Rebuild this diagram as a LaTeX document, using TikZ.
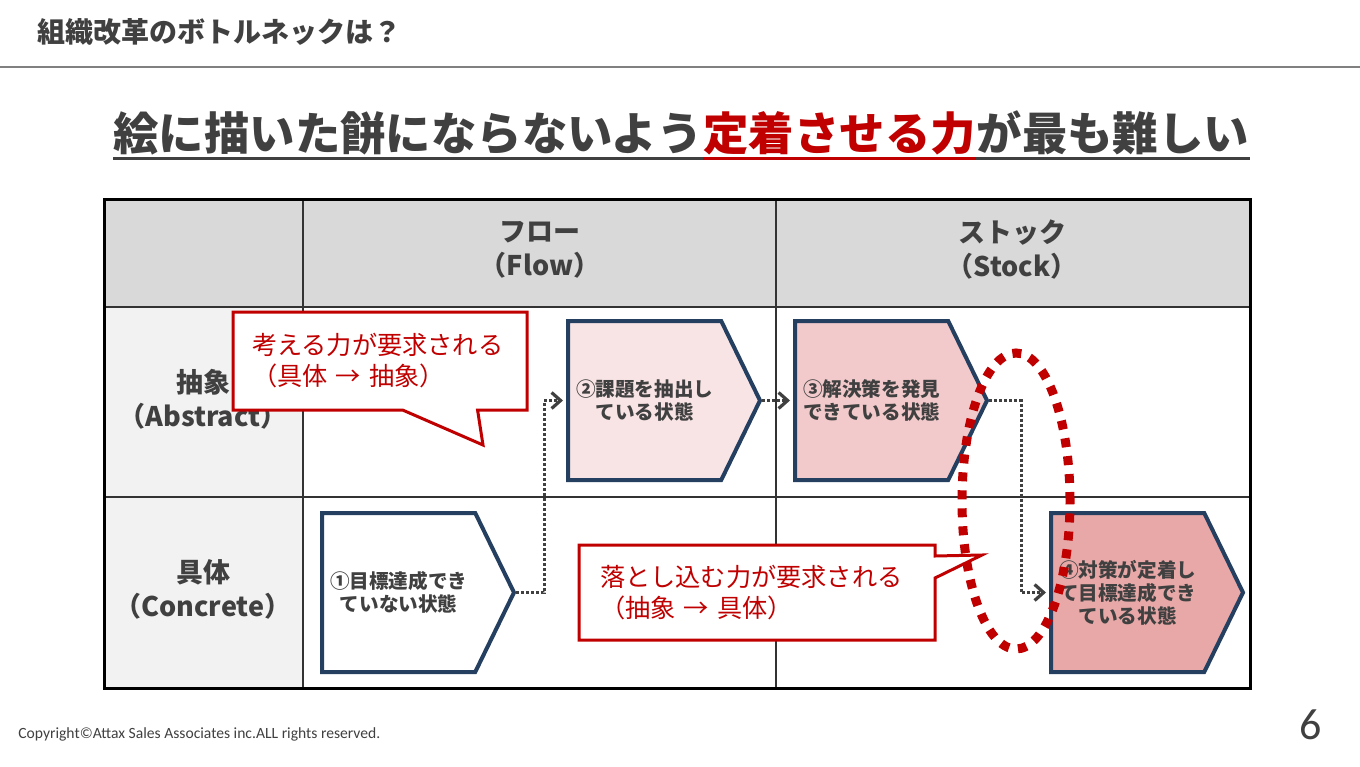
\documentclass[tikz,border=0pt]{standalone}
\usepackage{fontspec}
\setmainfont{Noto Sans CJK JP}
\newfontfamily\latinfont{Carlito}
\usetikzlibrary{shapes.symbols, shapes.callouts, arrows.meta, positioning}

\definecolor{textgray}{HTML}{404040}
\definecolor{darkred}{HTML}{C00000}
\definecolor{navy}{HTML}{243F60}
\definecolor{headgray}{HTML}{D9D9D9}
\definecolor{colgray}{HTML}{F2F2F2}
\definecolor{pinkA}{HTML}{F9E4E5}
\definecolor{pinkB}{HTML}{F2CACB}
\definecolor{pinkC}{HTML}{E8A8A8}

\tikzset{
  state/.style={signal, signal to=east, signal pointer angle=128, draw=navy,
    line width=2pt, minimum width=96pt, minimum height=79.5pt, anchor=west,
    font=\bfseries\fontsize{9.8}{11.5}\selectfont, text=textgray, align=center, inner sep=2pt},
  flow/.style={textgray, line width=1.5pt, dash pattern=on 1.5pt off 1pt,
    -{Straight Barb[length=4.5pt,width=8pt,line width=1.6pt]}, shorten >=1.5pt},
  note/.style={rectangle callout, draw=darkred, line width=1.5pt, fill=white,
    text=darkred, align=left, font=\fontsize{12.6}{15.5}\selectfont},
  headtext/.style={font=\bfseries\fontsize{13.5}{17}\selectfont, text=textgray, align=center},
}

\begin{document}
\begin{tikzpicture}[x=0.5pt, y=-0.5pt]
    \useasboundingbox[fill=white] (0,0) rectangle (1360,766);

    % slide header
    \node[anchor=west, inner sep=0, text=textgray, font=\bfseries\fontsize{14}{16}\selectfont]
        (header) at (37,32) {組織改革のボトルネックは？};
    \draw[gray, line width=1pt] (0,67) -- (1360,67);

    % title
    \begin{scope}[every node/.style={inner sep=0, font=\bfseries\fontsize{22.7}{26}\selectfont}]
        \node[anchor=base west, text=textgray] (t1) at (113,150) {絵に描いた餅にならないよう};
        \node[anchor=base west, text=darkred] (t2) at (t1.base east) {定着させる力};
        \node[anchor=base west, text=textgray] (t3) at (t2.base east) {が最も難しい};
    \end{scope}
    \draw[textgray, line width=1.5pt] ([yshift=-4pt]t1.base west) -- ([yshift=-4pt]t1.base east);
    \draw[darkred, line width=1.5pt] ([yshift=-4pt]t2.base west) -- ([yshift=-4pt]t2.base east);
    \draw[textgray, line width=1.5pt] ([yshift=-4pt]t3.base west) -- ([yshift=-4pt]t3.base east);

    % table
    \fill[headgray] (104,199) rectangle (1250,307);
    \fill[colgray] (104,307) rectangle (303,688);
    \draw[black!80, line width=0.7pt] (303,199) -- (303,688)
        (776,199) -- (776,688)
        (104,307) -- (1250,307)
        (104,497) -- (1250,497);
    \draw[black, line width=1.5pt] (104,199) rectangle (1250,688);

    \node[headtext] (flowhead) at (540,250) {フロー\\（Flow）};
    \node[headtext] (stockhead) at (1012,250) {ストック\\（Stock）};
    \node[headtext] (abshead) at (203,399) {抽象\\（Abstract）};
    \node[headtext] (conhead) at (203,589) {具体\\（Concrete）};

    % states
    \node[state, fill=white] (p1) at (320,592.5) {①目標達成でき\\ていない状態};
    \node[state, fill=pinkA] (p2) at (566,400.5) {②課題を抽出し\\ている状態};
    \node[state, fill=pinkB] (p3) at (793,400.5) {③解決策を発見\\できている状態};
    \node[state, fill=pinkC] (p4) at (1049,592.5) {④対策が定着し\\て目標達成でき\\ている状態};

    % connectors
    \draw[flow] (p1.east) -- ([xshift=14pt]p1.east) |- (p2.west);
    \draw[flow] (p2.east) -- (p3.west);
    \draw[flow] (p3.east) -- ([xshift=16pt]p3.east) |- (p4.west);

    % callouts
    \node[note, minimum width=147pt, minimum height=49pt, text width=128pt, inner xsep=9.5pt,
        callout pointer width=37.5pt, callout absolute pointer={(483,445)}]
        (think) at (380,361) {考える力が要求される\\（具体 → 抽象）};
    \node[note, minimum width=178pt, minimum height=47.5pt, text width=157pt, inner xsep=10.5pt,
        callout pointer width=11pt, callout absolute pointer={(982,555)}]
        (apply) at (757,592.5) {落とし込む力が要求される\\（抽象 → 具体）};

    % bottleneck
    \draw[darkred, line width=4.5pt, dash pattern=on 4.5pt off 4.5pt]
        (1016,501) ellipse [x radius=27pt, y radius=74pt];

    % footer
    \node[anchor=west, inner sep=0, text=textgray, font=\latinfont\fontsize{7.8}{9}\selectfont]
        (copy) at (18,734) {Copyright©Attax Sales Associates inc.ALL rights reserved.};
    \node[inner sep=0, text=textgray, font=\latinfont\fontsize{22}{24}\selectfont]
        (page) at (1311,725) {6};
\end{tikzpicture}
\end{document}
